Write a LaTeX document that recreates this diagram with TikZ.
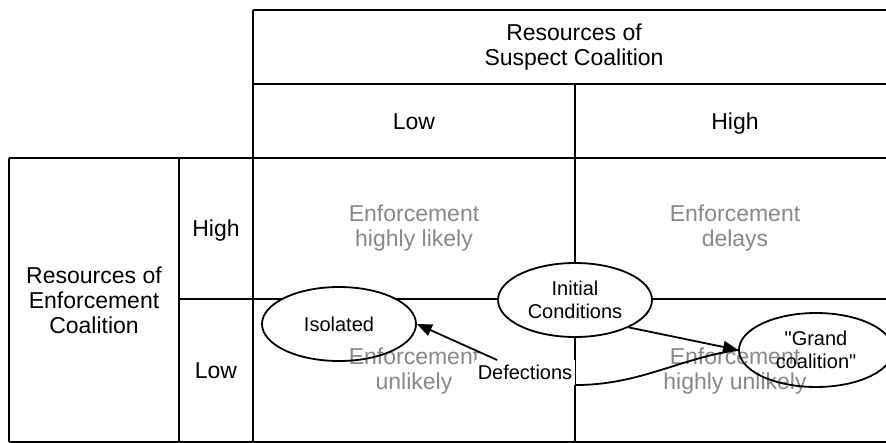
\documentclass[tikz,border=0pt]{standalone}
\usepackage{fontspec}
\setmainfont{Liberation Sans}[Ligatures=TeXOff]
\usetikzlibrary{shapes.geometric,arrows.meta}
\definecolor{outcomegray}{RGB}{136,136,136}

\begin{document}
\begin{tikzpicture}[x=1pt,y=-1pt,
  rule/.style={line width=1.8pt, black},
  heading/.style={font=\fontsize{23}{25}\selectfont, align=center, inner sep=0pt},
  outcome/.style={heading, text=outcomegray},
  ovalbg/.style={ellipse, fill=white, minimum width=154pt, minimum height=74pt, inner sep=0pt},
  ovalfg/.style={ellipse, draw, line width=1.8pt, minimum width=154pt, minimum height=74pt,
                 inner sep=0pt, font=\fontsize{20}{23}\selectfont, align=center},
  flow/.style={line width=1.8pt},
  tip/.style={-{Triangle[length=15pt,width=12pt]}}
]
\useasboundingbox (0,0) rectangle (886,442);
\clip (0,0) rectangle (886,442);

% table rules
\draw[rule] (253,10) -- (895,10);
\draw[rule] (253,84) -- (895,84);
\draw[rule] (9,158) -- (895,158);
\draw[rule] (179,299) -- (895,299);
\draw[rule] (9,442) -- (895,442);
\draw[rule] (9,158) -- (9,442);
\draw[rule] (179,158) -- (179,442);
\draw[rule] (253,10) -- (253,442);
\draw[rule] (575,84) -- (575,442);
\draw[rule] (895,10) -- (895,442);

% headings
\node[heading] (suspect) at (574,47) {Resources of\\Suspect Coalition};
\node[heading, anchor=base] (collow) at (414,129) {Low};
\node[heading, anchor=base] (colhigh) at (735,129) {High};
\node[heading, anchor=base] (rowhigh) at (216,236) {High};
\node[heading, anchor=base] (rowlow) at (216,378) {Low};
\node[heading] (enforcers) at (94,300) {Resources of\\Enforcement\\Coalition};

% white backgrounds of the states
\node[ovalbg] (icbg) at (575,300) {};
\node[ovalbg] (isobg) at (339,324) {};
\node[ovalbg] (gcbg) at (816,350) {};

% cell outcomes
\node[outcome] (likely) at (414,228) {Enforcement\\highly likely};
\node[outcome] (delays) at (735,228) {Enforcement\\delays};
\node[outcome] (unlikely) at (414,371) {Enforcement\\unlikely};
\node[outcome] (hunlikely) at (735,371) {Enforcement\\highly unlikely};

% states
\node[ovalfg] (ic) at (575,300) {Initial\\Conditions};
\node[ovalfg] (iso) at (339,324) {Isolated};
\node[ovalfg] (gc) at (816,350) {"Grand\\coalition"};

% transitions
\node[fill=white, inner xsep=3pt, inner ysep=5pt, font=\fontsize{20}{23}\selectfont]
  (def) at (525,372.5) {Defections};
\draw[flow, tip] (ic.-27) -- (gc.west);
\draw[flow] (gc.west) .. controls (680,358) and (640,385) .. (def.south east);
\draw[flow, tip] (def) -- (iso.east);
\end{tikzpicture}
\end{document}
